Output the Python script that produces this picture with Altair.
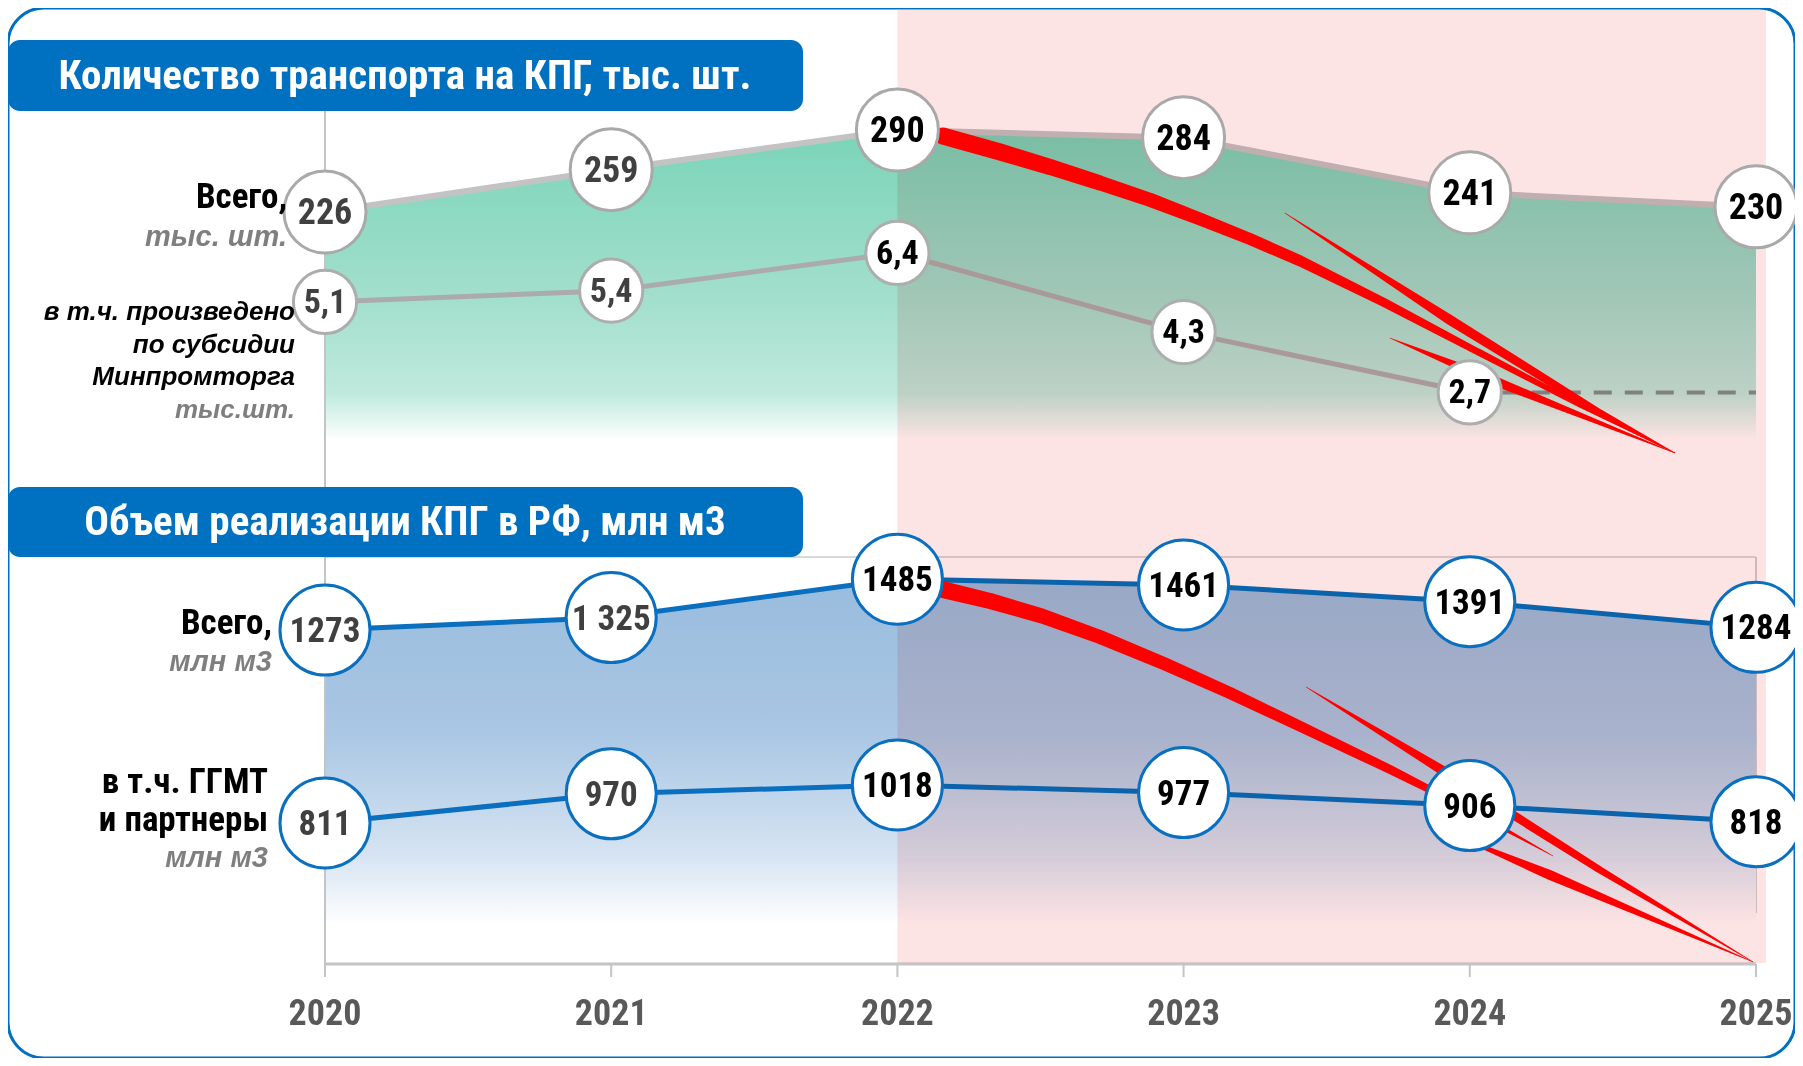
import altair as alt
import pandas as pd

# ---------------- data ----------------
years = [2020, 2021, 2022, 2023, 2024, 2025]
vehicles_total = [226, 259, 290, 284, 241, 230]
subsidy_years = [2020, 2021, 2022, 2023, 2024]
vehicles_subsidy = [5.1, 5.4, 6.4, 4.3, 2.7]
gas_total = [1273, 1325, 1485, 1461, 1391, 1284]
gas_total_labels = ["1273", "1 325", "1485", "1461", "1391", "1284"]
gas_ggmt = [811, 970, 1018, 977, 906, 818]
forecast_span = [2022, 2025.035]

title_top = "Количество транспорта на КПГ, тыс. шт."
title_bottom = "Объем реализации КПГ в РФ, млн м3"

# decorative "decline" arrows, in (year, series value) units
top_arrow_stroke = ["shaft"] * 12 + ["barb1"] * 4 + ["barb2"] * 3
top_arrow_year = [2022.159, 2022.359, 2022.533, 2022.708, 2022.883, 2023.057, 2023.232, 2023.407,
                  2023.697, 2024.029, 2024.385, 2024.717,
                  2023.354, 2023.931, 2024.455, 2024.717,
                  2023.721, 2024.060, 2024.717]
top_arrow_value = [285.3, 272.8, 261.1, 248.6, 235.4, 220.5, 204.9, 187.8,
                   155.7, 116.7, 75.3, 37.9,
                   225.2, 141.7, 69.1, 37.9,
                   127.6, 96.4, 37.9]
top_arrow_width = [17, 17, 16, 15, 14, 13, 12, 11, 9, 7, 5, 0.5,
                   0.5, 10, 7, 0.5,
                   0.5, 10, 0.5]

bottom_arrow_stroke = ["shaft"] * 10 + ["barb1"] * 4 + ["barb2"] * 3
bottom_arrow_year = [2022.135, 2022.324, 2022.505, 2022.708, 2022.935, 2023.162, 2023.361, 2023.718,
                     2024.001, 2024.291,
                     2023.428, 2023.931, 2024.455, 2024.990,
                     2023.913, 2024.280, 2024.990]
bottom_arrow_value = [1448.0, 1393.8, 1331.3, 1243.8, 1131.3, 1010.5, 898.0, 693.8, 523.0, 331.3,
                      1035.5, 668.8, 273.0, -110.3,
                      435.5, 252.2, -110.3]
bottom_arrow_width = [17, 16, 15, 14, 13, 12, 11, 9, 6, 0.5,
                      0.5, 10, 7, 0.5,
                      1, 10, 0.5]

# ---------------- frames ----------------
veh = pd.DataFrame({"year": years, "v": vehicles_total, "label": [str(v) for v in vehicles_total]})
sub = pd.DataFrame({"year": subsidy_years, "v": vehicles_subsidy,
                    "label": [f"{v:.1f}".replace(".", ",") for v in vehicles_subsidy]})
sub_dash = pd.DataFrame({"year": [subsidy_years[-1], years[-1]], "v": [vehicles_subsidy[-1]] * 2})
gas = pd.DataFrame({"year": years, "v": gas_total, "label": gas_total_labels})
ggmt = pd.DataFrame({"year": years, "v": gas_ggmt, "label": [str(v) for v in gas_ggmt]})
span = pd.DataFrame({"start": [forecast_span[0]], "end": [forecast_span[1]]})
full = pd.DataFrame({"start": [years[0]], "end": [years[-1]]})
yrs = pd.DataFrame({"year": years, "label": [str(y) for y in years]})
top_arrow = pd.DataFrame({"s": top_arrow_stroke, "year": top_arrow_year, "v": top_arrow_value,
                          "w": top_arrow_width, "i": list(range(len(top_arrow_year)))})
bottom_arrow = pd.DataFrame({"s": bottom_arrow_stroke, "year": bottom_arrow_year, "v": bottom_arrow_value,
                             "w": bottom_arrow_width, "i": list(range(len(bottom_arrow_year)))})

W, H = 1787, 1050
NARROW = "Liberation Sans Narrow, Arial Narrow, Roboto Condensed, Liberation Sans, sans-serif"
WIDE = "Liberation Sans, Arial, sans-serif"

xscale = alt.Scale(domain=[2018.8924, 2025.1363], nice=False, zero=False)
s_veh = alt.Scale(domain=[-434.4, 385.2], nice=False, zero=False)
s_sub = alt.Scale(domain=[-14.953, 12.898], nice=False, zero=False)
s_gas = alt.Scale(domain=[-510.3, 3864.7], nice=False, zero=False)
s_ggmt = alt.Scale(domain=[-469.0, 5250.0], nice=False, zero=False)


def X(field="year"):
    return alt.X(f"{field}:Q", scale=xscale, axis=None)


def Y(scale, field="v"):
    return alt.Y(f"{field}:Q", scale=scale, axis=None)


layers = []

# grid / frame rules
layers.append(alt.Chart(full).mark_rule(color="#d9d9d9", strokeWidth=2).encode(
    x=X("start"), x2="end:Q", y=alt.value(549)))
layers.append(alt.Chart(full).mark_rule(color="#d0d0d0", strokeWidth=2).encode(
    x=X("end"), y=alt.value(549), y2=alt.value(905)))

# areas
layers.append(alt.Chart(veh).mark_area(
    color=alt.Gradient(gradient="linear", x1=0, x2=0, y1=0, y2=1,
                       stops=[alt.GradientStop(offset=0, color="#7ad4b8"),
                              alt.GradientStop(offset=0.55, color="#a3dfcd"),
                              alt.GradientStop(offset=0.85, color="#bfeadd"),
                              alt.GradientStop(offset=1, color="#ffffff")])
).encode(x=X(), y=Y(s_veh), y2=alt.datum(48)))

layers.append(alt.Chart(gas).mark_area(
    color=alt.Gradient(gradient="linear", x1=0, x2=0, y1=0, y2=1,
                       stops=[alt.GradientStop(offset=0, color="#99bcdd"),
                              alt.GradientStop(offset=0.45, color="#aac7e4"),
                              alt.GradientStop(offset=0.8, color="#d6e4f2"),
                              alt.GradientStop(offset=1, color="#ffffff")])
).encode(x=X(), y=Y(s_gas), y2=alt.datum(44)))

# left axis line, baseline, ticks
layers.append(alt.Chart(full).mark_rule(color="#c4c4c4", strokeWidth=2).encode(
    x=X("start"), y=alt.value(103), y2=alt.value(969)))
layers.append(alt.Chart(full).mark_rule(color="#c4c4c4", strokeWidth=3).encode(
    x=X("start"), x2="end:Q", y=alt.value(956)))
layers.append(alt.Chart(yrs).mark_rule(color="#c4c4c4", strokeWidth=2).encode(
    x=X(), y=alt.value(956), y2=alt.value(969)))

# lines
layers.append(alt.Chart(veh).mark_line(color="#c3c3c3", strokeWidth=6).encode(x=X(), y=Y(s_veh)))
layers.append(alt.Chart(sub).mark_line(color="#ababab", strokeWidth=5).encode(x=X(), y=Y(s_sub)))
layers.append(alt.Chart(gas).mark_line(color="#0a6fbf", strokeWidth=5).encode(x=X(), y=Y(s_gas)))
layers.append(alt.Chart(ggmt).mark_line(color="#0a6fbf", strokeWidth=5).encode(x=X(), y=Y(s_ggmt)))

# forecast period shading
layers.append(alt.Chart(span).mark_rect(color="#fde4e4", blend="multiply").encode(
    x=X("start"), x2="end:Q", y=alt.value(2), y2=alt.value(955)))

# dashed carry-forward
layers.append(alt.Chart(sub_dash).mark_line(color="#808080", strokeWidth=4, strokeDash=[18, 13]).encode(
    x=X(), y=Y(s_sub)))

# red arrows
layers.append(alt.Chart(top_arrow).mark_trail(color="#ff0000").encode(
    x=X(), y=Y(s_veh), size=alt.Size("w:Q", scale=None, legend=None),
    detail="s:N", order="i:Q"))
layers.append(alt.Chart(bottom_arrow).mark_trail(color="#ff0000").encode(
    x=X(), y=Y(s_gas), size=alt.Size("w:Q", scale=None, legend=None),
    detail="s:N", order="i:Q"))


def bubbles(df, scale, size, stroke, font_size):
    c = alt.Chart(df).mark_circle(size=size, fill="white", fillOpacity=1, stroke=stroke,
                                  strokeWidth=3, opacity=1).encode(x=X(), y=Y(scale))
    t = alt.Chart(df).mark_text(font=NARROW, fontSize=font_size, fontWeight="bold",
                                align="center", baseline="middle", dy=1).encode(
        x=X(), y=Y(scale), text="label:N",
        color=alt.condition(alt.datum.year < 2022, alt.value("#404040"), alt.value("#000000")))
    return [c, t]


layers += bubbles(veh, s_veh, 6724, "#a9a9a9", 36)
layers += bubbles(sub, s_sub, 4000, "#adadad", 34)
layers += bubbles(gas, s_gas, 8100, "#0a6fbf", 35)
layers += bubbles(ggmt, s_ggmt, 8100, "#0a6fbf", 35)

# title boxes
for title, y0, y1 in [(title_top, 32, 103), (title_bottom, 479, 549)]:
    tdf = pd.DataFrame({"t": [title]})
    layers.append(alt.Chart(tdf).mark_rect(color="#0070c0", cornerRadius=12).encode(
        x=alt.value(0), x2=alt.value(795), y=alt.value(y0), y2=alt.value(y1)))
    layers.append(alt.Chart(tdf).mark_text(font=NARROW, fontSize=41, fontWeight="bold", color="white",
                                           align="center", baseline="middle").encode(
        x=alt.value(397), y=alt.value((y0 + y1) / 2 + 1), text="t:N"))


def label(text, x, y, size, color="#000000", italic=False):
    ldf = pd.DataFrame({"t": [text]})
    return alt.Chart(ldf).mark_text(font=WIDE if italic else NARROW, fontSize=size, fontWeight="bold",
                                    fontStyle="italic" if italic else "normal",
                                    color=color, align="right", baseline="middle").encode(
        x=alt.value(x), y=alt.value(y), text="t:N")


GREY = "#7f7f7f"
layers += [
    label("Всего,", 279, 189, 35),
    label("тыс. шт.", 279, 229, 29, GREY, True),
    label("в т.ч. произведено", 287, 304, 26, italic=True),
    label("по субсидии", 287, 337, 26, italic=True),
    label("Минпромторга", 287, 369, 26, italic=True),
    label("тыс.шт.", 287, 402, 26, GREY, True),
    label("Всего,", 264, 615, 35),
    label("млн м3", 264, 654, 29, GREY, True),
    label("в т.ч. ГГМТ", 260, 774, 35),
    label("и партнеры", 260, 812, 35),
    label("млн м3", 260, 850, 29, GREY, True),
]

# year labels
layers.append(alt.Chart(yrs).mark_text(font=NARROW, fontSize=36, fontWeight="bold", color="#595959",
                                       align="center", baseline="middle").encode(
    x=X(), y=alt.value(1006), text="label:N"))

chart = alt.layer(*layers).resolve_scale(y="independent").properties(
    width=W, height=H, padding=0, background="white",
    autosize=alt.AutoSizeParams(type="none"),
).configure_view(fill="white", stroke="#0070c0", strokeWidth=3, cornerRadius=36)

chart.save("out.html", embed_options={"renderer": "svg", "actions": False})
